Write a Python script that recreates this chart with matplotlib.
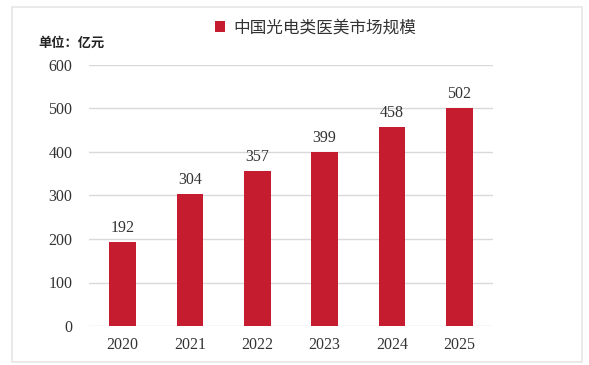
import matplotlib.pyplot as plt
from matplotlib.patches import Rectangle

years = ['2020', '2021', '2022', '2023', '2024', '2025']
market = [192, 304, 357, 399, 458, 502]
series_name = '中国光电类医美市场规模'

bar_color = '#C51D2F'

fig = plt.figure(figsize=(5.89, 3.65), dpi=100)
fig.patches.append(Rectangle((12 / 589, 3 / 365), 570 / 589, 355 / 365,
                             transform=fig.transFigure, fill=False,
                             edgecolor='#E6E6E6', linewidth=1.2))

ax = fig.add_axes([89 / 589, 1 - 326 / 365, 404 / 589, 261 / 365])
x = range(len(years))
bars = ax.bar(x, market, width=0.4, color=bar_color, label=series_name, zorder=3)

for xi, v in zip(x, market):
    ax.text(xi, v + 14, str(v), ha='center', va='bottom', fontsize=11.5,
            family='Liberation Serif', color='#333333')

ax.set_ylim(0, 600)
ax.set_xlim(-0.5, len(years) - 0.5)
ax.set_yticks(range(0, 601, 100))
ax.set_xticks(list(x))
ax.set_xticklabels(years)
for lab in ax.get_xticklabels() + ax.get_yticklabels():
    lab.set_family('Liberation Serif')
    lab.set_fontsize(11.5)
    lab.set_color('#333333')
ax.tick_params(length=0, pad=8)
ax.tick_params(axis='y', pad=12)
ax.grid(axis='y', color='#D9D9D9', linewidth=1, zorder=0)
for s in ax.spines.values():
    s.set_visible(False)

leg = fig.legend(loc='center', bbox_to_anchor=(316 / 589, 1 - 28 / 365), frameon=False,
                 prop={'family': ['Noto Sans CJK SC', 'DejaVu Sans'], 'size': 12},
                 handlelength=0.6, handleheight=0.6, handletextpad=0.5)
for t in leg.get_texts():
    t.set_color('#333333')

fig.text(38 / 589, 1 - 43 / 365, '单位：亿元', ha='left', va='center', fontsize=9.5,
         fontweight='bold', family=['Noto Sans CJK SC', 'DejaVu Sans'], color='#222222')

fig.savefig('out.png', dpi=100)
